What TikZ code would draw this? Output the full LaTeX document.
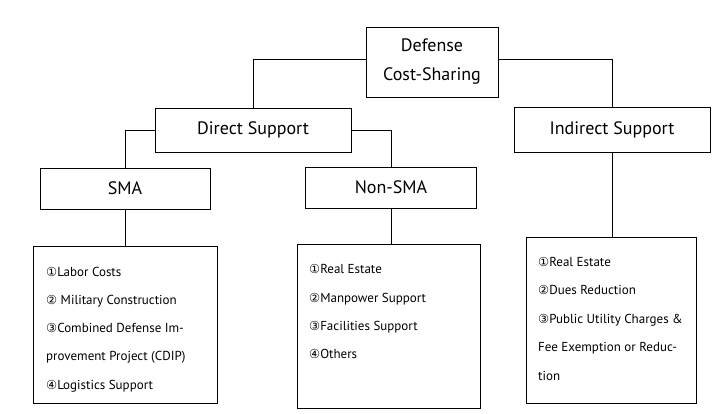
\documentclass[tikz,border=0pt]{standalone}
\usepackage{fontspec}
\setmainfont{PT Sans}
\newfontfamily\symf[Scale=0.95]{DejaVu Sans}
\begin{document}
\begin{tikzpicture}[x=1pt,y=-1pt,
  box/.style={draw,line width=1pt,inner sep=0pt,anchor=center},
  hdr/.style={box,font=\fontsize{18}{29}\selectfont,align=center},
  item/.style={anchor=base west,inner sep=0pt,font=\fontsize{13}{14}\selectfont},
  link/.style={line width=0.9pt}]
\useasboundingbox (0,0) rectangle (724,413);
% header boxes
\node[hdr,minimum width=132pt,minimum height=70pt] (def) at (432,62) {Defense\\Cost-Sharing};
\node[hdr,minimum width=196pt,minimum height=44pt] (dir) at (253,130) {Direct Support};
\node[hdr,minimum width=196pt,minimum height=45pt] (ind) at (612,129.5) {Indirect Support};
\node[hdr,minimum width=170pt,minimum height=41pt] (sma) at (125,188.5) {SMA};
\node[hdr,minimum width=171pt,minimum height=41pt] (nsma) at (391,187.5) {Non-SMA};
% list boxes
\node[box,minimum width=184pt,minimum height=157pt] (smal) at (125,324.5) {};
\node[box,minimum width=183pt,minimum height=164pt] (nsmal) at (389,326) {};
\node[box,minimum width=170pt,minimum height=166pt] (indl) at (611,320) {};
% connectors
\draw[link] ([yshift=3pt]def.west) -| (dir.north);
\draw[link] ([yshift=3pt]def.east) -| (ind.north);
\draw[link] (dir.west) -| (sma.north);
\draw[link] (dir.east) -| (nsma.north);
\draw[link] (sma.south) -- (sma.south |- smal.north);
\draw[link] (nsma.south) -- (nsma.south |- nsmal.north);
\draw[link] (ind.south) -- (ind.south |- indl.north);
% SMA items
\node[item] (s1) at (46,276) {{\symf ①}Labor Costs};
\node[item] (s2) at (46,304) {{\symf ②} Military Construction};
\node[item] (s3) at (46,332) {{\symf ③}Combined Defense Im-};
\node[item] (s4) at (46,360) {provement Project (CDIP)};
\node[item] (s5) at (46,389) {{\symf ④}Logistics Support};
% Non-SMA items
\node[item] (n1) at (309,273.5) {{\symf ①}Real Estate};
\node[item] (n2) at (309,302) {{\symf ②}Manpower Support};
\node[item] (n3) at (309,330) {{\symf ③}Facilities Support};
\node[item] (n4) at (309,358) {{\symf ④}Others};
% Indirect items
\node[item] (i1) at (538,266) {{\symf ①}Real Estate};
\node[item] (i2) at (538,294) {{\symf ②}Dues Reduction};
\node[item] (i3) at (538,323) {{\symf ③}Public Utility Charges \&};
\node[item] (i4) at (538,351) {Fee Exemption or Reduc-};
\node[item] (i5) at (538,380) {tion};
\end{tikzpicture}
\end{document}
